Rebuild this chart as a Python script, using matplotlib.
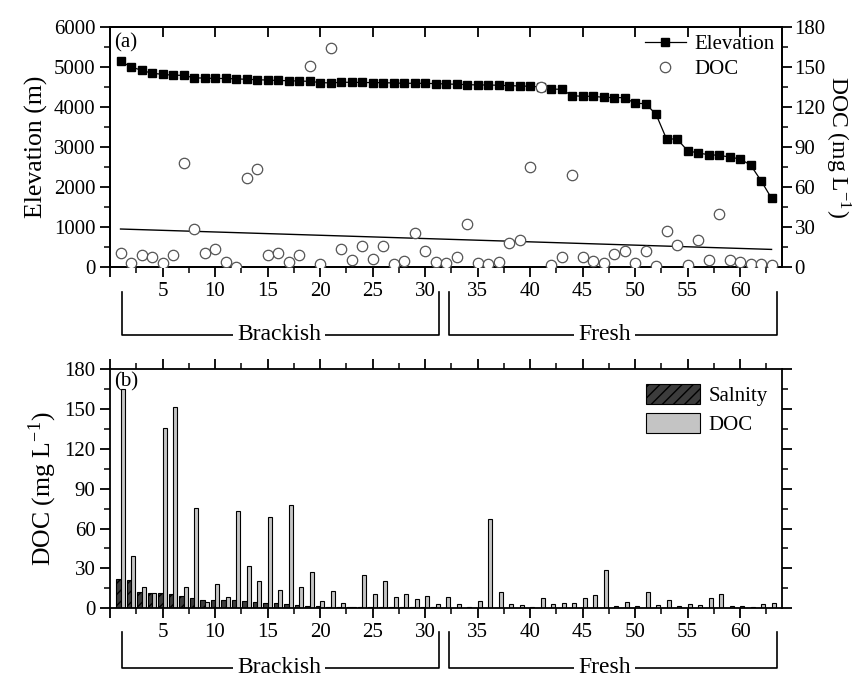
import matplotlib

matplotlib.use("Agg")
import matplotlib.pyplot as plt
import matplotlib.transforms as mtransforms
from matplotlib.lines import Line2D
from matplotlib.ticker import MultipleLocator
import numpy as np

plt.rcParams.update({
    "font.family": ["Liberation Serif", "DejaVu Serif"],
    "mathtext.fontset": "stix",
    "axes.linewidth": 1.3,
    "xtick.major.width": 1.3, "ytick.major.width": 1.3,
    "xtick.minor.width": 1.1, "ytick.minor.width": 1.1,
    "xtick.major.size": 7, "ytick.major.size": 7,
    "xtick.minor.size": 4, "ytick.minor.size": 4,
    "xtick.labelsize": 15, "ytick.labelsize": 15,
    "legend.frameon": False,
})

# ---- panel (a): sites sorted by elevation
site = np.arange(1, 64)
elevation = [5150, 5010, 4925, 4850, 4825, 4800, 4800, 4735, 4730, 4720,
             4720, 4710, 4700, 4690, 4680, 4670, 4665, 4655, 4650, 4618,
             4608, 4625, 4625, 4620, 4617, 4615, 4608, 4600, 4600, 4598,
             4592, 4583, 4575, 4567, 4558, 4558, 4550, 4542, 4533, 4525,
             4510, 4455, 4450, 4290, 4275, 4274, 4249, 4241, 4241, 4099,
             4091, 3824, 3207, 3207, 2916, 2857, 2816, 2799, 2757, 2707,
             2557, 2166, 1724]
doc_a = [11.0, 3.5, 9.2, 7.8, 3.5, 9.2, 78.0, 29.0, 11.0, 13.7,
         3.7, 0.5, 67.0, 73.5, 9.0, 11.0, 4.0, 9.2, 151.0, 2.2,
         164.5, 13.8, 5.5, 16.2, 6.5, 16.2, 2.2, 4.7, 25.7, 12.5,
         3.8, 3.0, 7.5, 32.5, 3.0, 2.2, 4.2, 18.5, 20.7, 75.2,
         135.0, 1.7, 7.8, 69.0, 7.8, 4.7, 3.0, 10.2, 12.3, 3.3,
         12.3, 1.0, 27.5, 16.5, 1.5, 20.2, 5.2, 39.7, 5.2, 3.7,
         2.2, 2.2, 1.5]
trend_x = [1, 63]
trend_doc = [28.7, 13.4]

# ---- panel (b): sites sorted by salinity
salinity = [22.1, 21.4, 12.3, 11.8, 11.2, 10.8, 9.3, 7.6, 6.6, 6.6,
            6.3, 5.9, 5.5, 5.0, 4.2, 4.0, 3.3, 2.4, 1.9, 1.6,
            1.3, 1.2, 1.0, 0.9, 0.9, 0.8, 0.8, 0.7, 0.7, 0.6,
            0.6, 0.5, 0.5, 0.4, 0.4, 0.4, 0.4, 0.3, 0.3, 0.3,
            0.3, 0.3, 0.3, 0.3, 0.3, 0.2, 0.2, 0.2, 0.2, 0.2,
            0.2, 0.2, 0.2, 0.2, 0.2, 0.2, 0.2, 0.1, 0.1, 0.1,
            0.1, 0.1, 0.1]
doc_b = [164.7, 39.4, 16.3, 11.5, 135.4, 151.2, 16.3, 75.2, 5.0, 18.3,
         8.8, 73.5, 31.8, 20.6, 69.0, 13.8, 78.0, 16.3, 27.3, 5.8,
         13.3, 3.8, 1.3, 25.0, 10.8, 20.6, 8.5, 10.5, 7.3, 9.3,
         3.0, 8.8, 3.5, 1.3, 5.3, 67.2, 12.0, 3.0, 2.5, 1.3,
         7.5, 3.0, 3.8, 3.8, 7.5, 10.0, 29.0, 1.5, 4.5, 2.0,
         12.3, 2.5, 6.3, 2.0, 3.0, 2.3, 7.5, 11.0, 2.0, 2.0,
         1.3, 3.3, 3.8]

groups = [("Brackish", 1.1, 31.3, 16.1), ("Fresh", 32.3, 63.5, 47.1)]
DOC_LABEL = "DOC (mg L$^{\\mathregular{-1}}$)"


def bracket(ax, y_top, y_line):
    tr = mtransforms.blended_transform_factory(ax.transData, ax.transAxes)
    for name, x0, x1, xc in groups:
        ax.plot([x0, x0, x1, x1], [y_top, y_line, y_line, y_top], color="k",
                lw=1.2, transform=tr, clip_on=False, zorder=1)
        ax.text(xc, y_line, name, transform=tr, ha="center", va="center",
                fontsize=17, zorder=3,
                bbox=dict(fc="white", ec="none", pad=3))


def x_ticks(ax):
    ax.set_xlim(0, 64)
    ax.xaxis.set_minor_locator(MultipleLocator(2.5))
    ax.set_xticks(np.arange(0, 65, 5),
                  [""] + [str(v) for v in range(5, 65, 5)])


fig = plt.figure(figsize=(8.65, 6.77), dpi=100)
ax1 = fig.add_axes([0.1272, 0.6052, 0.7769, 0.3545])
ax2 = fig.add_axes([0.1272, 0.1015, 0.7769, 0.3534])

# ---- (a)
ax1.plot(site, elevation, "-s", color="k", lw=0.9, ms=5.5, zorder=2)
ax1.set_ylim(0, 6000)
ax1.yaxis.set_major_locator(MultipleLocator(1000))
ax1.yaxis.set_minor_locator(MultipleLocator(500))
x_ticks(ax1)
ax1.tick_params(which="both", direction="out", top=False, right=False)
top = ax1.secondary_xaxis("top")
top.set_xticks(np.arange(0, 65, 5), [""] * 13)
top.tick_params(direction="in", length=7, width=1.3)
ax1.set_ylabel("Elevation (m)", fontsize=18.5, labelpad=4)

axr = ax1.twinx()
axr.plot(trend_x, trend_doc, color="k", lw=1.0, zorder=2)
axr.plot(site, doc_a, "o", ms=7.5, mfc="white", mec="#555555", mew=0.9,
         zorder=3)
axr.set_ylim(0, 180)
axr.yaxis.set_major_locator(MultipleLocator(30))
axr.yaxis.set_minor_locator(MultipleLocator(15))
axr.tick_params(which="both", direction="out", pad=2)
axr.set_ylabel(DOC_LABEL, fontsize=17, rotation=270, labelpad=19)
ax1.text(0.006, 0.975, "(a)", transform=ax1.transAxes, ha="left", va="top",
         fontsize=15)
handles = [Line2D([], [], color="k", marker="s", lw=0.9, ms=5.5),
           Line2D([], [], color="#555555", marker="o", ls="", ms=7.5,
                  mfc="white", mew=0.9)]
axr.legend(handles, ["Elevation", "DOC"], loc="upper right", fontsize=15,
           borderaxespad=0.15, borderpad=0.2, labelspacing=0.25,
           handletextpad=0.4, handlelength=2.0)
bracket(ax1, -0.103, -0.282)

# ---- (b)
w = 0.42
ax2.bar(site - w / 2, salinity, width=w, color="#3c3c3c", edgecolor="k",
        lw=0.8, hatch="///", label="Salnity")
ax2.bar(site + w / 2, doc_b, width=w, color="#c4c4c4", edgecolor="k",
        lw=0.8, label="DOC")
ax2.set_ylim(0, 180)
ax2.yaxis.set_major_locator(MultipleLocator(30))
ax2.yaxis.set_minor_locator(MultipleLocator(15))
x_ticks(ax2)
ax2.tick_params(which="both", direction="out", top=True, right=True,
                labelright=False, labeltop=False)
ax2.set_ylabel(DOC_LABEL, fontsize=18.5, labelpad=4)
ax2.text(0.006, 0.985, "(b)", transform=ax2.transAxes, ha="left", va="top",
         fontsize=15)
ax2.legend(loc="upper right", fontsize=15, borderaxespad=0.3,
           handlelength=2.6, handleheight=1.1, labelspacing=0.35,
           handletextpad=0.4)
bracket(ax2, -0.099, -0.249)

fig.savefig("out.png", dpi=100)
